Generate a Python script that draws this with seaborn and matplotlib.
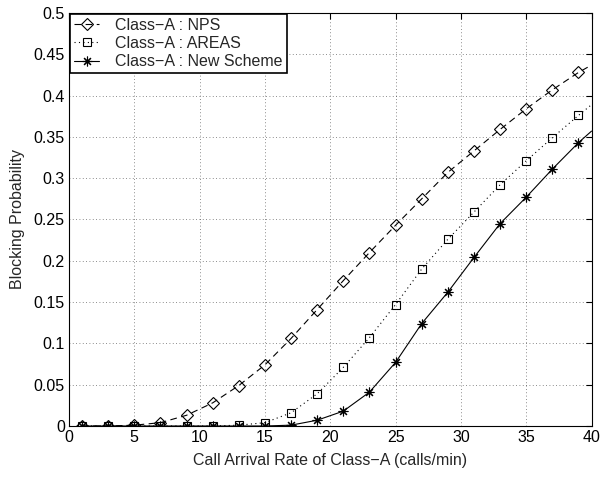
import numpy as np
import pandas as pd
import matplotlib
matplotlib.use("Agg")
import matplotlib.pyplot as plt
import seaborn as sns

# arrival rates where markers were drawn (odd values), plus line end at 40
rate = [1, 3, 5, 7, 9, 11, 13, 15, 17, 19, 21, 23, 25, 27, 29, 31, 33, 35, 37, 39, 40]

nps = [0.0, 0.0, 0.001, 0.004, 0.013, 0.028, 0.049, 0.074, 0.106, 0.141,
       0.176, 0.210, 0.243, 0.275, 0.307, 0.333, 0.359, 0.384, 0.407, 0.428, 0.437]
areas = [0.0, 0.0, 0.0, 0.0, 0.0, 0.0, 0.001, 0.004, 0.016, 0.039,
         0.071, 0.107, 0.147, 0.190, 0.226, 0.259, 0.292, 0.321, 0.349, 0.376, 0.389]
new_scheme = [0.0, 0.0, 0.0, 0.0, 0.0, 0.0, 0.0, 0.0, 0.001, 0.007,
              0.018, 0.041, 0.077, 0.124, 0.162, 0.204, 0.245, 0.277, 0.311, 0.343, 0.357]

labels = ["Class\u2212A : NPS", "Class\u2212A : AREAS", "Class\u2212A : New Scheme"]

sns.set_style("white")
plt.rcParams['font.family'] = ['Liberation Sans', 'DejaVu Sans']
plt.rcParams['font.size'] = 10

fig = plt.figure(figsize=(6.02, 4.78), dpi=100)
ax = fig.add_axes([0.1146, 0.1088, 0.868, 0.864])

n_mark = len(rate) - 1
sns.lineplot(x=rate, y=nps, ax=ax, color="black", lw=0.8, linestyle=(0, (6, 4)),
             marker="D", markersize=6, markerfacecolor="none", markeredgecolor="black",
             markeredgewidth=0.8, markevery=slice(0, n_mark), label=labels[0])
sns.lineplot(x=rate, y=areas, ax=ax, color="black", lw=0.8, linestyle=(0, (1, 3)),
             marker="s", markersize=6, markerfacecolor="none", markeredgecolor="black",
             markeredgewidth=0.8, markevery=slice(0, n_mark), label=labels[1])
sns.lineplot(x=rate, y=new_scheme, ax=ax, color="black", lw=0.8, linestyle="-",
             marker=(8, 2, 0), markersize=7, markeredgecolor="black",
             markeredgewidth=0.8, markevery=slice(0, n_mark), label=labels[2])

ax.set_xlim(0, 40)
ax.set_ylim(0, 0.5)
ax.set_xticks(np.arange(0, 41, 5))
ax.set_yticks(np.arange(0, 0.501, 0.05))
ax.set_yticklabels(["0", "0.05", "0.1", "0.15", "0.2", "0.25", "0.3", "0.35", "0.4", "0.45", "0.5"])
ax.grid(True, linestyle=(0, (1, 3)), color="black", lw=0.6, alpha=0.6)
ax.tick_params(direction="in", top=True, right=True, length=4, width=0.8,
               labelsize=11.5, colors="black", pad=3)
for s in ax.spines.values():
    s.set_color("black")
    s.set_linewidth(0.8)

ax.set_xlabel("Call Arrival Rate of Class\u2212A (calls/min)", fontsize=11.5, labelpad=6)
ax.set_ylabel("Blocking Probability", fontsize=11.5, labelpad=6)

leg = ax.legend(loc="upper left", fontsize=11.5, frameon=True, fancybox=False,
                borderaxespad=0.05, borderpad=0.25, labelspacing=0.2,
                handlelength=1.6, handletextpad=1.0)
leg.get_frame().set_edgecolor("black")
leg.get_frame().set_linewidth(1.2)
leg.get_frame().set_alpha(1)

fig.savefig("out.png", dpi=100)
